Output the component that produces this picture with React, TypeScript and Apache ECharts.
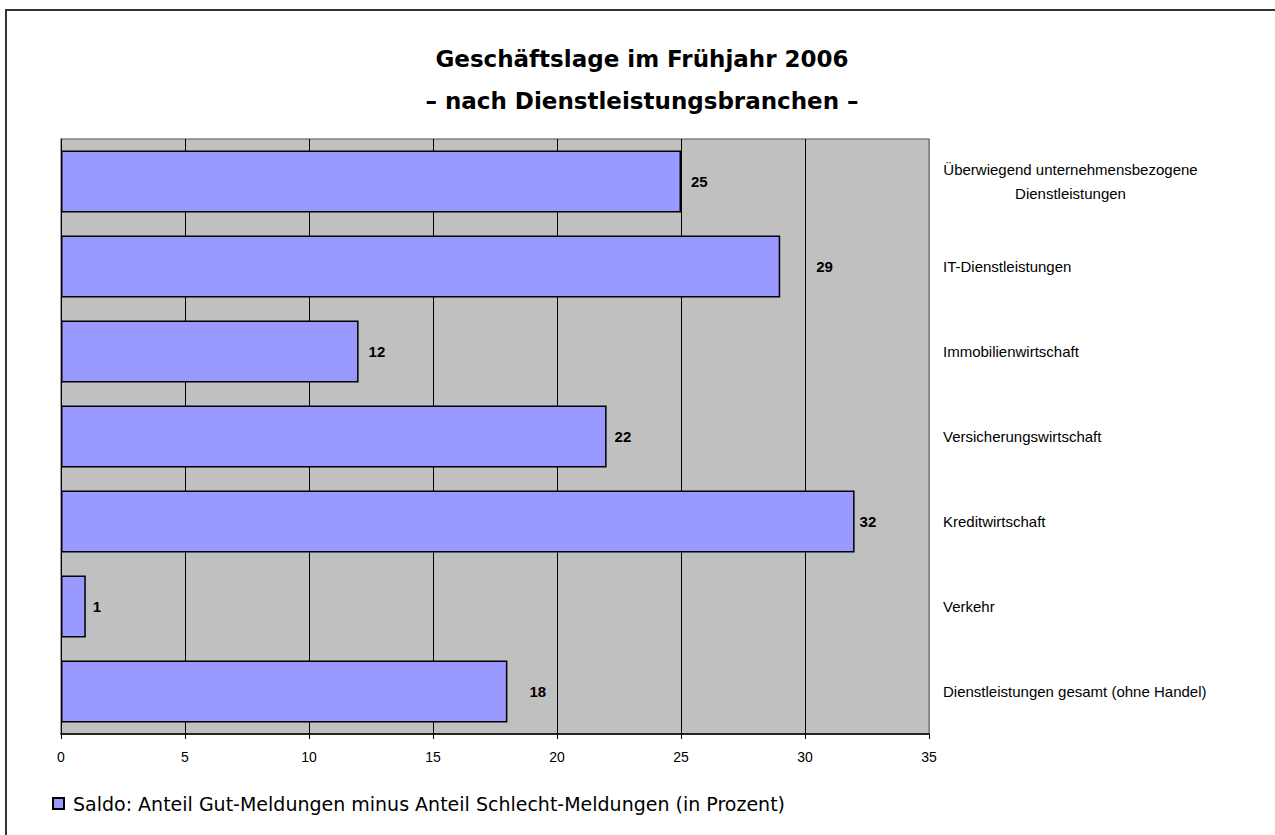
import React, { useEffect, useRef } from "react";
import * as echarts from "echarts";

const categories = [
  "Dienstleistungen gesamt (ohne Handel)",
  "Verkehr",
  "Kreditwirtschaft",
  "Versicherungswirtschaft",
  "Immobilienwirtschaft",
  "IT-Dienstleistungen",
  "Überwiegend unternehmensbezogene\nDienstleistungen",
];
const values = [18, 1, 32, 22, 12, 29, 25];
const xTicks = { min: 0, max: 35, interval: 5 };
const seriesName = "Saldo: Anteil Gut-Meldungen minus Anteil Schlecht-Meldungen (in Prozent)";
const titleText = "Geschäftslage im Frühjahr 2006\n– nach Dienstleistungsbranchen –";

// label distance from bar end (style only)
const labelDistances = [22, 7, 5, 8, 10, 36, 10];

const CAT_FONT = 15;

function measure(text: string, font: string): number {
  const c = document.createElement("canvas");
  const ctx = c.getContext("2d");
  if (!ctx) return 260;
  ctx.font = font;
  return ctx.measureText(text).width;
}

export default function App() {
  const ref = useRef<HTMLDivElement>(null);
  useEffect(() => {
    if (!ref.current) return;
    const chart = echarts.init(ref.current, null, { renderer: "svg" });
    const splitColors = ["#000", "#000", "#000", "#000", "#000", "#000", "#000", "#808080"];
    const multiWidth = Math.ceil(
      Math.max(
        ...categories
          .filter((c) => c.indexOf("\n") >= 0)
          .map((c) => measure(c.split("\n")[0], CAT_FONT + "px 'Liberation Sans'"))
      )
    );
    chart.setOption({
      animation: false,
      backgroundColor: "#fff",
      title: {
        text: titleText,
        left: 637,
        top: 33,
        textAlign: "center",
        textStyle: {
          fontFamily: "DejaVu Sans",
          fontWeight: "bold",
          fontSize: 23,
          lineHeight: 42,
          color: "#000",
        },
      },
      legend: {
        left: 52,
        top: 794,
        padding: 0,
        itemWidth: 11,
        itemHeight: 11,
        itemGap: 10,
        icon: "rect",
        textStyle: { fontFamily: "DejaVu Sans", fontSize: 19, color: "#000", padding: [0, 0, 0, 4] },
        data: [seriesName],
      },
      grid: {
        left: 61,
        top: 139,
        width: 868,
        height: 595,
        show: true,
        backgroundColor: "#C0C0C0",
        borderColor: "#808080",
        borderWidth: 1.5,
      },
      xAxis: {
        type: "value",
        min: xTicks.min,
        max: xTicks.max,
        interval: xTicks.interval,
        axisLine: { show: true, lineStyle: { color: "#000", width: 1.5 } },
        axisTick: { show: true, length: 5, lineStyle: { color: "#000", width: 1 } },
        axisLabel: { fontFamily: "Liberation Sans", fontSize: 14, color: "#000", margin: 16 },
        splitLine: { show: true, lineStyle: { color: splitColors, width: 1 } },
      },
      yAxis: {
        type: "category",
        position: "right",
        data: categories,
        axisLine: { show: false },
        axisTick: { show: false },
        splitLine: { show: false },
        axisLabel: {
          fontFamily: "Liberation Sans",
          fontSize: CAT_FONT,
          color: "#000",
          margin: 14,
          align: "left",
          formatter: (v: string) =>
            v.indexOf("\n") >= 0
              ? v
                  .split("\n")
                  .map((l) => "{c|" + l + "}")
                  .join("\n")
              : v,
          rich: {
            c: {
              width: multiWidth,
              align: "center",
              fontFamily: "Liberation Sans",
              fontSize: CAT_FONT,
              color: "#000",
              lineHeight: 24,
            },
          },
        },
      },
      series: [
        {
          name: seriesName,
          type: "bar",
          barCategoryGap: "27%",
          data: values.map((v, i) => ({
            value: v,
            label: { distance: labelDistances[i] },
          })),
          itemStyle: { color: "#9999FF", borderColor: "#000", borderWidth: 1.5 },
          label: {
            show: true,
            position: "right",
            fontFamily: "Liberation Sans",
            fontWeight: "bold",
            fontSize: 15,
            color: "#000",
          },
        },
      ],
      graphic: [
        {
          type: "polyline",
          shape: { points: [[6, 1000], [6, 10], [1400, 10]] },
          style: { fill: "none", stroke: "#333", lineWidth: 2 },
          silent: true,
        },
      ],
    });
    return () => chart.dispose();
  }, []);
  return (
    <div
      ref={ref}
      style={{ position: "absolute", left: 0, top: 0, width: 1275, height: 835 }}
    />
  );
}
